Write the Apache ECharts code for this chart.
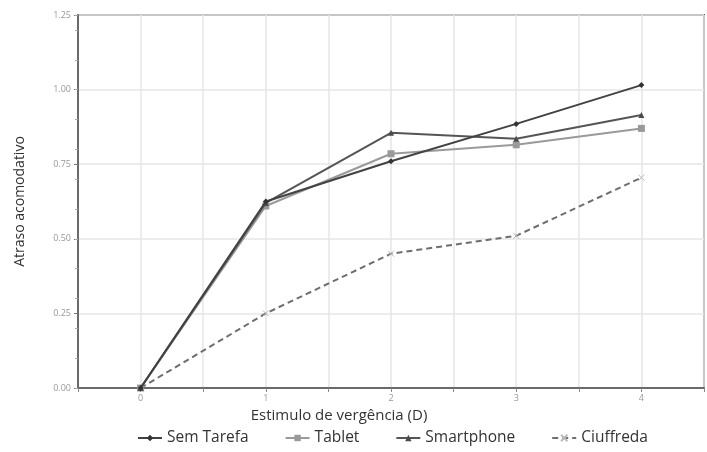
<!DOCTYPE html>
<html>
<head>
<meta charset="utf-8">
<script src="https://cdn.jsdelivr.net/npm/echarts@6/dist/echarts.min.js"></script>
<style>
  html, body { margin: 0; padding: 0; background: #fff; }
  #chart { width: 707px; height: 452px; }
</style>
</head>
<body>
<div id="chart"></div>
<script>
// Vergence stimulus (D)
const stimulus = [0, 1, 2, 3, 4];

// Accommodative lag per condition
const semTarefa  = [0, 0.625, 0.76, 0.885, 1.015];
const tablet     = [0, 0.61, 0.785, 0.815, 0.87];
const smartphone = [0, 0.62, 0.855, 0.835, 0.915];
const ciuffreda  = [0, 0.25, 0.45, 0.51, 0.705];

const seriesNames = ['Sem Tarefa', 'Tablet', 'Smartphone', 'Ciuffreda'];

const pairs = vals => stimulus.map((x, i) => [x, vals[i]]);
const FONT = '"Open Sans", sans-serif';
const crossPath = 'path://M0,0L10,10M10,0L0,10';

const chart = echarts.init(document.getElementById('chart'), null, { renderer: 'canvas' });

chart.setOption({
  animation: false,
  backgroundColor: '#ffffff',
  grid: {
    left: 78, right: 3, top: 15, bottom: 64,
    show: true, borderColor: '#6a6a6a', borderWidth: 2
  },
  legend: {
    bottom: 1,
    left: 132,
    itemWidth: 24,
    itemHeight: 8,
    itemGap: 36,
    textStyle: { fontFamily: FONT, fontSize: 15.5, color: '#333' },
    data: seriesNames
  },
  xAxis: {
    type: 'value',
    min: -0.5, max: 4.5, interval: 0.5,
    name: 'Estimulo de vergência (D)',
    nameLocation: 'middle',
    nameGap: 17,
    nameTextStyle: { fontFamily: FONT, fontSize: 15, color: '#333', padding: [0, 104, 0, 0] },
    axisLine: { onZero: false, lineStyle: { color: '#6a6a6a', width: 2 } },
    axisTick: { show: true, inside: false, length: 4, lineStyle: { color: '#888' } },
    axisLabel: {
      fontFamily: FONT, fontSize: 9, color: '#999', margin: 6,
      formatter: v => (Number.isInteger(v) && v >= 0 ? String(v) : '')
    },
    splitLine: { show: true, lineStyle: { color: '#e6e6e6', width: 1.5 } }
  },
  yAxis: [
    {
      type: 'value',
      min: 0, max: 1.25, interval: 0.25,
      name: 'Atraso acomodativo',
      nameLocation: 'middle',
      nameGap: 51,
      nameTextStyle: { fontFamily: FONT, fontSize: 14, color: '#333' },
      axisLine: { show: true, onZero: false, lineStyle: { color: '#6a6a6a', width: 2 } },
      axisTick: { show: true, length: 4, lineStyle: { color: '#777' } },
      axisLabel: {
        fontFamily: FONT, fontSize: 9, color: '#999', margin: 7,
        formatter: v => v.toFixed(2)
      },
      splitLine: { show: true, lineStyle: { color: '#e6e6e6', width: 1.5 } }
    },
    {
      // minor ticks every 0.1
      type: 'value',
      position: 'left',
      min: 0, max: 1.25, interval: 0.1,
      axisLine: { show: false, onZero: false },
      axisTick: { show: true, length: 3, lineStyle: { color: '#aaa' } },
      axisLabel: { show: false },
      splitLine: { show: false }
    }
  ],
  series: [
    {
      name: 'Sem Tarefa', type: 'line', data: pairs(semTarefa), z: 5,
      symbol: 'diamond', symbolSize: 6,
      lineStyle: { color: '#424242', width: 2 },
      itemStyle: { color: '#333' }
    },
    {
      name: 'Tablet', type: 'line', data: pairs(tablet), z: 3,
      symbol: 'rect', symbolSize: 7,
      lineStyle: { color: '#9a9a9a', width: 2 },
      itemStyle: { color: '#999' }
    },
    {
      name: 'Smartphone', type: 'line', data: pairs(smartphone), z: 4,
      symbol: 'triangle', symbolSize: 6,
      lineStyle: { color: '#555', width: 2 },
      itemStyle: { color: '#4a4a4a' }
    },
    {
      name: 'Ciuffreda', type: 'line', data: pairs(ciuffreda), z: 2,
      symbol: crossPath, symbolSize: 6,
      lineStyle: { color: '#6e6e6e', width: 2, type: [6, 4] },
      itemStyle: { color: 'rgba(0,0,0,0)', borderColor: '#bbb', borderWidth: 1 }
    }
  ]
});
</script>
</body>
</html>
